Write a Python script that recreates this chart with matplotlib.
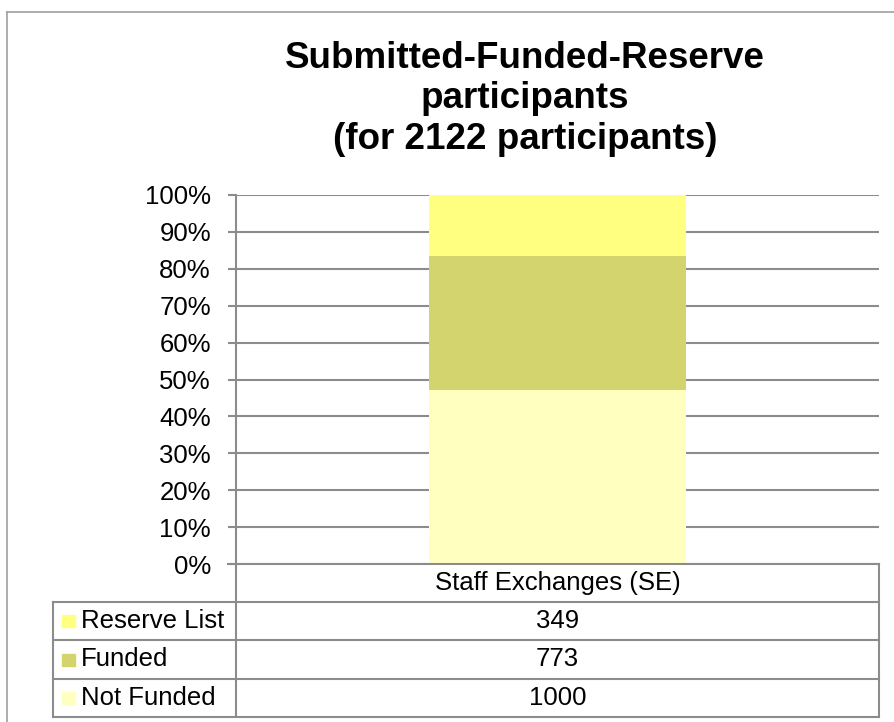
import matplotlib
matplotlib.use("Agg")
import matplotlib.pyplot as plt
from matplotlib.lines import Line2D
from matplotlib.patches import Rectangle

plt.rcParams['font.family'] = ['Liberation Sans', 'DejaVu Sans']

categories = ["Staff Exchanges (SE)"]
series_names = ["Not Funded", "Funded", "Reserve List"]
series_values = [[1000], [773], [349]]
series_colors = ["#FFFFC0", "#D4D46E", "#FFFF80"]
title = "Submitted-Funded-Reserve\nparticipants\n(for 2122 participants)"
yticks = [0, 10, 20, 30, 40, 50, 60, 70, 80, 90, 100]

W, H = 894, 722
fig = plt.figure(figsize=(W / 100, H / 100), dpi=100)

def fx(px):
    return px / W

def fy(py):
    return 1 - py / H

GRID = "#8C8C8C"
FS = 18.5

# outer chart border
fig.add_artist(Line2D([fx(7), fx(7)], [fy(12), fy(722)], color="#A0A0A0", lw=1.2))
fig.add_artist(Line2D([fx(7), fx(894)], [fy(12), fy(12)], color="#A0A0A0", lw=1.2))

# plot area
left, right, top, bottom = 236, 879, 195, 564
ax = fig.add_axes([fx(left), fy(bottom), fx(right - left), (bottom - top) / H])

totals = [sum(v[i] for v in series_values) for i in range(len(categories))]
base = [0.0] * len(categories)
for name, vals, col in zip(series_names, series_values, series_colors):
    pct = [v / t * 100 for v, t in zip(vals, totals)]
    ax.bar(range(len(categories)), pct, width=0.4, bottom=base, color=col,
           edgecolor="none", zorder=3, label=name)
    base = [b + p for b, p in zip(base, pct)]

ax.set_xlim(-0.5, len(categories) - 0.5)
ax.set_ylim(0, 100)
ax.set_yticks(yticks)
ax.set_yticklabels([f"{t}%" for t in yticks], fontsize=FS)
ax.yaxis.grid(True, color=GRID, lw=1.5, zorder=0)
ax.set_xticks([])
for s in ["top", "right", "bottom"]:
    ax.spines[s].set_visible(False)
ax.spines["left"].set_color(GRID)
ax.spines["left"].set_linewidth(1.5)
ax.tick_params(axis="y", direction="out", length=6, width=1.5, color=GRID, pad=12)
ax.set_facecolor("none")

# title
fig.text(fx(525), fy(99), title, ha="center", va="center", fontsize=26.5,
         fontweight="bold", linespacing=1.2)

# data table
row_y = [564, 602, 640, 679, 717]
tab_left, col_div, tab_right = 53, 236, 879
lw = 1.5
fig.add_artist(Line2D([fx(col_div), fx(col_div)], [fy(564), fy(717)], color=GRID, lw=lw))
fig.add_artist(Line2D([fx(tab_right), fx(tab_right)], [fy(564), fy(717)], color=GRID, lw=lw))
fig.add_artist(Line2D([fx(tab_left), fx(tab_left)], [fy(602), fy(717)], color=GRID, lw=lw))
fig.add_artist(Line2D([fx(228), fx(tab_right)], [fy(564), fy(564)], color=GRID, lw=lw))
for yy in row_y[1:]:
    fig.add_artist(Line2D([fx(tab_left), fx(tab_right)], [fy(yy), fy(yy)], color=GRID, lw=lw))

fig.text(fx((col_div + tab_right) / 2), fy((row_y[0] + row_y[1]) / 2), categories[0],
         ha="center", va="center", fontsize=FS)

rows = list(zip(series_names, series_values, series_colors))[::-1]
for i, (name, vals, col) in enumerate(rows):
    yc = (row_y[i + 1] + row_y[i + 2]) / 2
    fig.add_artist(Rectangle((fx(62), fy(yc + 6)), 13 / W, 12 / H, color=col,
                             transform=fig.transFigure))
    fig.text(fx(81), fy(yc), name, ha="left", va="center", fontsize=FS)
    fig.text(fx((col_div + tab_right) / 2), fy(yc), str(vals[0]),
             ha="center", va="center", fontsize=FS)

fig.savefig("out.png", dpi=100)
